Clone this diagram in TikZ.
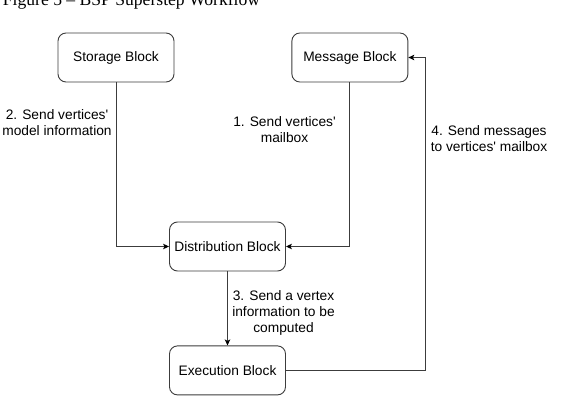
\documentclass[tikz,border=0pt]{standalone}
\usepackage{fontspec}
\setmainfont{Liberation Sans}[Ligatures=TeXOff]
\newfontfamily\captionfont{Liberation Serif}
\usepackage{tikz}
\usetikzlibrary{arrows.meta, positioning}
\usepackage{xcolor}
\definecolor{lineGray}{RGB}{60,60,60}

\begin{document}
\begin{tikzpicture}[
    x=1pt, y=-1pt,
    font=\fontsize{13.75}{16}\selectfont,
    blockBox/.style={
        rectangle,
        rounded corners=8pt,
        minimum width=116pt,
        minimum height=49pt,
        draw=lineGray,
        line width=0.9pt,
        fill=white,
        align=center
    },
    edgeLabel/.style={
        align=center,
        inner sep=0pt
    },
    flow/.style={
        draw=lineGray,
        line width=0.9pt,
        -{Stealth[length=6pt, width=5.5pt, inset=1.5pt, black]}
    }
]
\useasboundingbox (0,0) rectangle (563,404);

% Caption
\node[anchor=base west, inner sep=0pt, font=\captionfont\fontsize{17.6}{20}\selectfont] (cap) at (2.7,6) {Figure 5 – BSP Superstep Workflow};

% Row 1
\node[blockBox] (sto) at (116,57.5) {Storage Block};
\node[blockBox, right=117pt of sto] (msg) {Message Block};

% Row 2
\node[blockBox] (dist) at (227.5,246.5) {Distribution Block};

% Row 3
\node[blockBox, below=74pt of dist] (exe) {Execution Block};

% Connectors
\coordinate (back) at ([xshift=17pt]msg.east);
\draw[flow] (sto.south) |- (dist.west);
\draw[flow] (msg.south) |- (dist.east);
\draw[flow] (dist.south) -- (exe.north);
\draw[flow] (exe.east) -| (back) -- (msg.east);

% Labels
\node[edgeLabel] (l2) at (57,122.2) {2. Send vertices'\\model information};
\node[edgeLabel] (l1) at (284.5,129.7) {1. Send vertices'\\mailbox};
\node[edgeLabel] (l3) at (283.5,312.5) {3. Send a vertex\\information to be\\computed};
\node[edgeLabel] (l4) at (489,138.3) {4. Send messages\\to vertices' mailbox};

\end{tikzpicture}
\end{document}
